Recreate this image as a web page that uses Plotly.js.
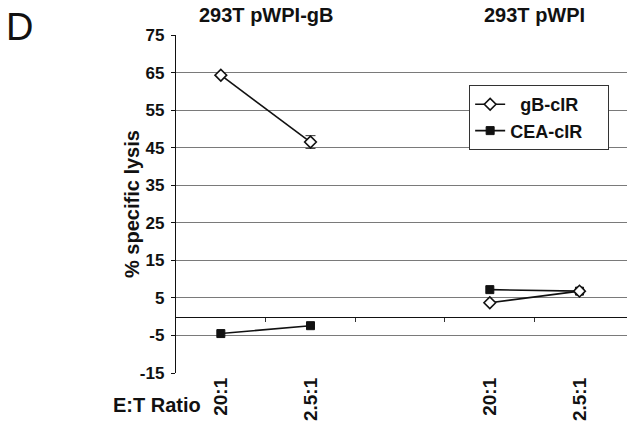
<!DOCTYPE html>
<html>
<head>
<meta charset="utf-8">
<script src="https://cdn.plot.ly/plotly-3.0.1.min.js"></script>
<style>html,body{margin:0;padding:0;background:#fff;}#chart{width:627px;height:424px;}</style>
</head>
<body>
<div id="chart"></div>
<script>
// Data
var categories = ["20:1", "2.5:1", "", "20:1", "2.5:1"];
var xPos = [0, 1, 2, 3, 4];
var gB = [64.3, 46.5, null, 3.7, 6.8];
var gBErr = [0, 1.7, 0, 0, 0.5];
var CEA = [-4.5, -2.4, null, 7.2, 6.8];
var seriesNames = ["gB-cIR", "CEA-cIR"];
var panelTitles = ["293T pWPI-gB", "293T pWPI"];
var yTicks = [-15, -5, 5, 15, 25, 35, 45, 55, 65, 75];

var FONT = "Liberation Sans, Arial, sans-serif";
function b(s) { return s === "" ? "" : "<b>" + s + "</b>"; }

var traces = [
  {
    x: xPos, y: CEA, name: b(seriesNames[1]) + "&nbsp;&nbsp;&nbsp;&nbsp;", type: "scatter", mode: "lines+markers",
    connectgaps: false,
    line: {color: "#111", width: 1.6},
    marker: {symbol: "square", size: 8, color: "#111", line: {color: "#111", width: 1}}
  },
  {
    x: xPos, y: gB, name: "&nbsp;&nbsp;" + b(seriesNames[0]), type: "scatter", mode: "lines+markers",
    connectgaps: false,
    line: {color: "#111", width: 1.6},
    marker: {symbol: "diamond", size: 9, color: "#fff", line: {color: "#111", width: 1.6}},
    error_y: {type: "data", array: gBErr, visible: true, color: "#333", thickness: 1, width: 5}
  },
  {
    x: [0.5], y: [0], xaxis: "x2", yaxis: "y", type: "scatter", mode: "markers",
    marker: {opacity: 0}, showlegend: false, hoverinfo: "skip"
  }
];

var layout = {
  width: 627, height: 424,
  margin: {l: 176, r: 0, t: 35, b: 51},
  paper_bgcolor: "#fff", plot_bgcolor: "#fff",
  font: {family: FONT, color: "#111"},
  showlegend: true,
  legend: {
    x: 0.650, y: 0.852, xanchor: "left", yanchor: "top",
    bgcolor: "#fff", bordercolor: "#333", borderwidth: 1,
    font: {family: FONT, size: 18, color: "#111"},
    traceorder: "reversed", itemwidth: 30, tracegroupgap: 0
  },
  xaxis: {
    range: [-0.5, 4.53], tickmode: "array", tickvals: xPos, ticktext: categories.map(b),
    tickangle: -90, ticks: "", showgrid: false, zeroline: false,
    showline: false, fixedrange: true,
    tickfont: {family: FONT, size: 19, color: "#111"}
  },
  xaxis2: {
    overlaying: "x", anchor: "free", position: 15 / 90,
    range: [-0.5, 4.53], tickmode: "array", tickvals: [0.5, 1.5, 2.5, 3.5],
    ticks: "outside", ticklen: 4, tickcolor: "#333", tickwidth: 1,
    showticklabels: false, showgrid: false, zeroline: false,
    showline: true, linecolor: "#111", linewidth: 1
  },
  yaxis: {
    range: [-15, 75], tickmode: "array", tickvals: yTicks, ticktext: yTicks.map(function (v) { return b(String(v)); }),
    ticks: "outside", ticklen: 4, tickcolor: "#111",
    showline: true, linecolor: "#111", linewidth: 1.2,
    showgrid: true, gridcolor: "#7a7a7a", gridwidth: 1, zeroline: false,
    tickfont: {family: FONT, size: 17, color: "#111"},
    ticklabelstandoff: 3
  },
  annotations: [
    {text: "D", xref: "paper", yref: "paper", x: -176/451, y: 1 + 35/338, xanchor: "left", yanchor: "top",
     xshift: 4, yshift: -4, showarrow: false, font: {family: FONT, size: 38, color: "#111"}},
    {text: b(panelTitles[0]), xref: "x", yref: "paper", x: 0.5, y: 1, yanchor: "bottom", yshift: 7,
     showarrow: false, font: {family: FONT, size: 20, color: "#111"}},
    {text: b(panelTitles[1]), xref: "x", yref: "paper", x: 3.5, y: 1, yanchor: "bottom", yshift: 7,
     showarrow: false, font: {family: FONT, size: 20, color: "#111"}},
    {text: b("% specific lysis"), xref: "paper", yref: "paper", x: 0, y: 0.5, xshift: -44,
     xanchor: "center", yanchor: "middle",
     textangle: -90, showarrow: false, font: {family: FONT, size: 20, color: "#111"}},
    {text: b("E:T Ratio"), xref: "paper", yref: "paper", x: 0, y: 0, xanchor: "right", yanchor: "middle",
     xshift: 27, yshift: -32, showarrow: false, font: {family: FONT, size: 20, color: "#111"}}
  ]
};

Plotly.newPlot("chart", traces, layout, {displayModeBar: false, staticPlot: true});
</script>
</body>
</html>
